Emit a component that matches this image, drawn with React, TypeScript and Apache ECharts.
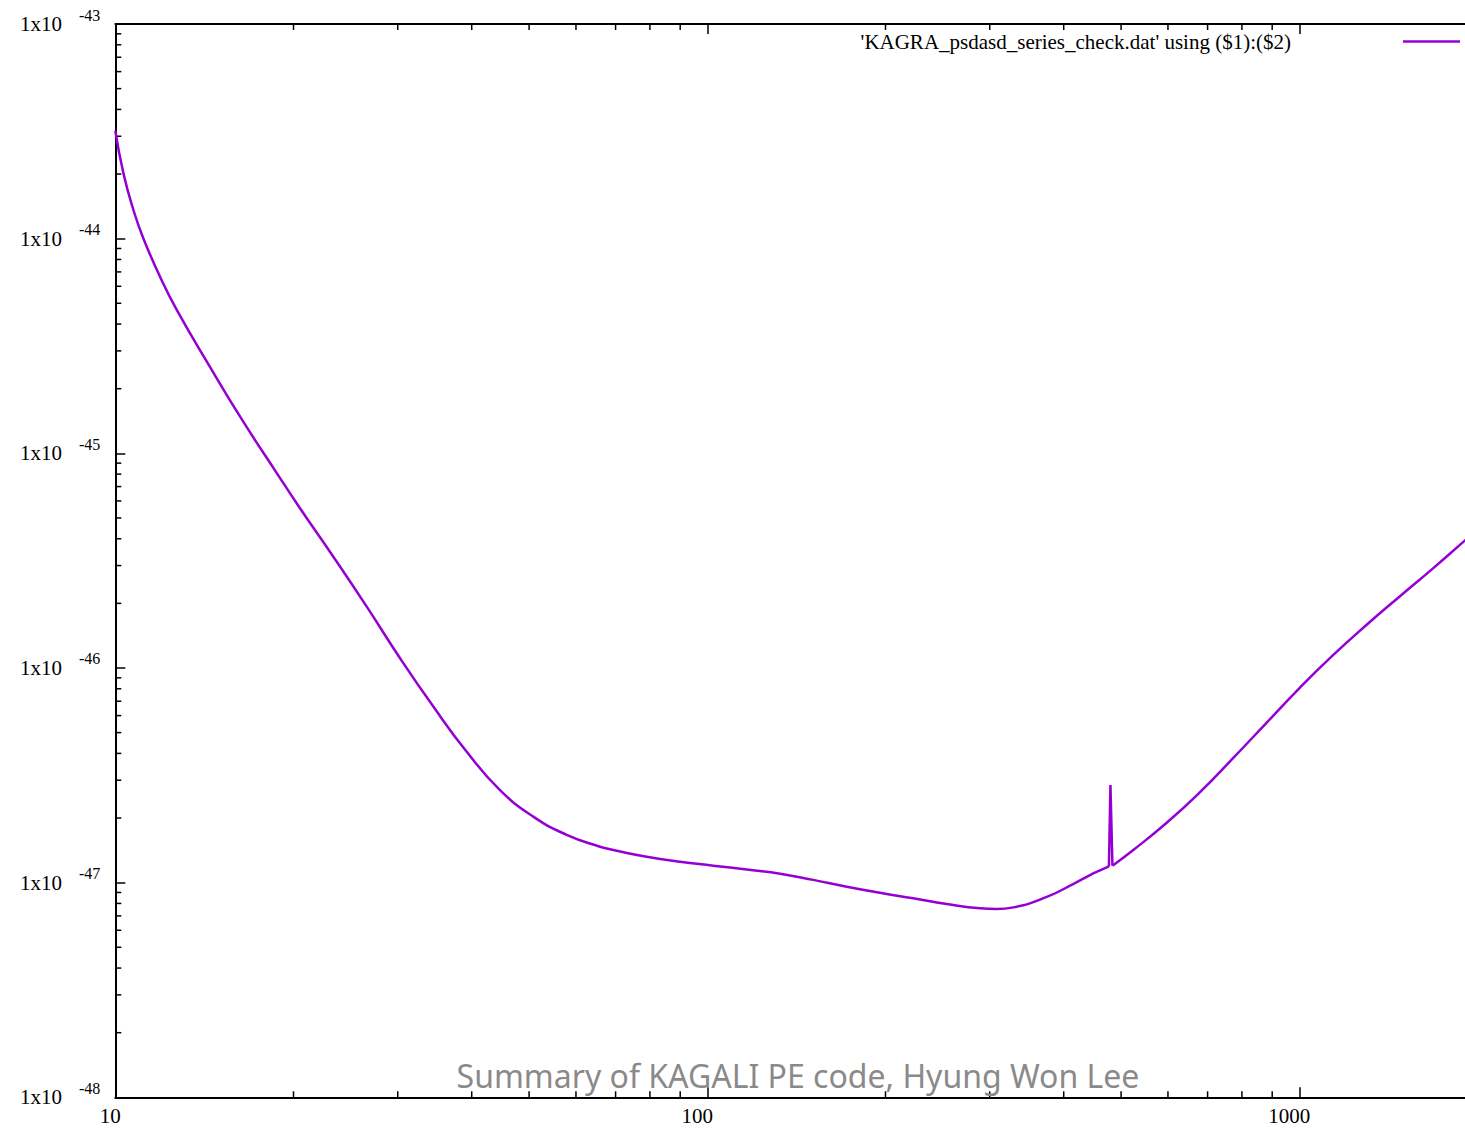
import React, { useEffect, useRef } from "react";
import * as echarts from "echarts";

const seriesName = "'KAGRA_psdasd_series_check.dat' using ($1):($2)";
const watermarkText = "Summary of KAGALI PE code, Hyung Won Lee";

const frequency = [
  10, 10.32, 10.73, 11.15, 11.9, 12.7, 14.45, 16.46, 18.74, 20.51,
  23.35, 26.59, 30.27, 34.45, 39.23, 44.65, 50.82, 57.87, 65.89, 69.38,
  79.0, 89.94, 102.35, 116.6, 132.7, 151.0, 172.0, 195.7, 222.8, 253.8,
  288.8, 308.2, 328.8, 374.5, 417.9, 443.1, 460.7, 476.9, 479.7, 483.5,
  524.4, 597.1, 679.7, 773.6, 881.1, 1002.8, 1141.4, 1299.7, 1479.4, 1684.2,
  1905.5, 2000,
];

const psd = [
  3.18e-44, 2.02e-44, 1.36e-44, 1.005e-44, 6.65e-45, 4.66e-45, 2.53e-45, 1.4e-45, 8.09e-46, 5.55e-46,
  3.3e-46, 1.93e-46, 1.11e-46, 6.61e-47, 4.07e-47, 2.7e-47, 2.03e-47, 1.67e-47, 1.47e-47, 1.42e-47,
  1.32e-47, 1.25e-47, 1.2e-47, 1.15e-47, 1.1e-47, 1.03e-47, 9.57e-48, 8.97e-48, 8.45e-48, 7.95e-48,
  7.59e-48, 7.54e-48, 7.67e-48, 8.58e-48, 9.96e-48, 1.085e-47, 1.14e-47, 1.19e-47, 2.85e-47, 1.2e-47,
  1.42e-47, 1.9e-47, 2.64e-47, 3.81e-47, 5.57e-47, 8.11e-47, 1.15e-46, 1.59e-46, 2.16e-46, 2.92e-46,
  3.93e-46, 4.41e-46,
];

// the narrow line near 480 Hz: indices of the points around the spike
const spikeStart = 37;
const spikeEnd = 39;

const xMin = 10;
const xMax = 2000;
const yMin = 1e-48;
const yMax = 1e-43;

const xMinorTicks = [20, 30, 40, 50, 60, 70, 80, 90, 200, 300, 400, 500, 600, 700, 800, 900];
const yMinorTicks = [
  2e-48, 3e-48, 4e-48, 5e-48, 6e-48, 7e-48, 8e-48, 9e-48,
  2e-47, 3e-47, 4e-47, 5e-47, 6e-47, 7e-47, 8e-47, 9e-47,
  2e-46, 3e-46, 4e-46, 5e-46, 6e-46, 7e-46, 8e-46, 9e-46,
  2e-45, 3e-45, 4e-45, 5e-45, 6e-45, 7e-45, 8e-45, 9e-45,
  2e-44, 3e-44, 4e-44, 5e-44, 6e-44, 7e-44, 8e-44, 9e-44,
];

// The axis works in units of 1e-48 so that ECharts' rounding of tiny tick values stays exact.
const Y_UNIT_EXP = 48;
const toAxisY = (v: number) => v * Math.pow(10, Y_UNIT_EXP);

const SERIF = "'Liberation Serif', 'DejaVu Serif', serif";
const LINE_COLOR = "#9400D3";
const MINOR_LEN = 6;
const CHART_W = 1478;
const CHART_H = 1128;

export default function App() {
  const ref = useRef<HTMLDivElement>(null);

  useEffect(() => {
    if (!ref.current) return;
    const chart = echarts.init(ref.current, undefined, { renderer: "svg" });

    const isPow10 = (v: number) => {
      if (!(v > 0)) return false;
      const e = Math.log10(v);
      return Math.abs(e - Math.round(e)) < 1e-6;
    };

    const yLo = toAxisY(yMin);
    const yHi = toAxisY(yMax);

    const points = frequency.map((f, i) => [f, toAxisY(psd[i])]);
    const partA = points.slice(0, spikeStart + 1);
    const partB = points.slice(spikeStart, spikeEnd + 1);
    const partC = points.slice(spikeEnd);

    const axisLineStyle = { show: true, onZero: false, lineStyle: { color: "#000", width: 2 } };
    const majorTick = { show: true, inside: true, length: 10, lineStyle: { color: "#000", width: 1.5 } };

    const xAxisBase = {
      type: "log" as const,
      logBase: 10,
      min: xMin,
      max: xMax,
      axisLine: axisLineStyle,
      axisTick: majorTick,
      splitLine: { show: false },
      minorTick: { show: false },
    };
    const yAxisBase = {
      type: "log" as const,
      logBase: 10,
      min: yLo,
      max: yHi,
      axisLine: axisLineStyle,
      axisTick: majorTick,
      splitLine: { show: false },
      minorTick: { show: false },
    };

    const lineBase = {
      name: seriesName,
      type: "line",
      xAxisIndex: 0,
      yAxisIndex: 0,
      symbol: "none",
      showSymbol: false,
      lineStyle: { color: LINE_COLOR, width: 2.5 },
      itemStyle: { color: LINE_COLOR },
      z: 5,
    };

    const xLabelStyle = { fontFamily: SERIF, fontSize: 21, color: "#000" };

    const option: any = {
      animation: false,
      backgroundColor: "#fff",
      grid: {
        left: 115.3,
        right: CHART_W - 1477.5,
        top: 24,
        bottom: CHART_H - 1097.3,
        containLabel: false,
        outerBoundsMode: "none",
      },
      legend: {
        data: [{ name: seriesName, icon: "rect" }],
        right: 18,
        top: 31,
        padding: 0,
        align: "right",
        itemWidth: 57,
        itemHeight: 2.5,
        selectedMode: false,
        itemStyle: { color: LINE_COLOR },
        textStyle: {
          fontFamily: SERIF,
          fontSize: 21,
          color: "#000",
          padding: [0, 107, 0, 0],
        },
      },
      xAxis: [
        {
          ...xAxisBase,
          position: "bottom",
          axisLabel: {
            show: true,
            showMinLabel: true,
            showMaxLabel: false,
            margin: 8,
            formatter: (v: number) => {
              if (!isPow10(v)) return "";
              const t = String(Math.round(v));
              return v < 50 ? `{q|${t}}` : `{p|${t}}`;
            },
            rich: {
              p: { ...xLabelStyle, padding: [0, 20, 0, 0] },
              q: { ...xLabelStyle, padding: [0, 10, 0, 0] },
            },
          },
        },
        {
          ...xAxisBase,
          position: "top",
          axisLabel: { show: false },
        },
      ],
      yAxis: [
        {
          ...yAxisBase,
          position: "left",
          axisLabel: {
            show: true,
            showMinLabel: true,
            showMaxLabel: true,
            hideOverlap: false,
            margin: 15,
            formatter: (v: number) => {
              if (!isPow10(v)) return "";
              const e = Math.round(Math.log10(v)) - Y_UNIT_EXP;
              return `{a|1x10}{b|${e}}`;
            },
            rich: {
              a: { fontFamily: SERIF, fontSize: 21, color: "#000" },
              b: { fontFamily: SERIF, fontSize: 16, color: "#000", padding: [0, 0, 18, 17] },
            },
          },
        },
        {
          ...yAxisBase,
          position: "right",
          axisLabel: { show: false },
        },
      ],
      graphic: [
        {
          type: "text",
          x: 798,
          y: 1075,
          z: 100,
          silent: true,
          style: {
            text: watermarkText,
            fontFamily: "'Noto Sans', 'Open Sans', sans-serif",
            fontSize: 32,
            fill: "#8a8a8a",
            align: "center",
            verticalAlign: "middle",
          },
        },
      ],
      series: [
        { ...lineBase, data: partA, smooth: 0.5 },
        { ...lineBase, data: partB, smooth: false },
        { ...lineBase, data: partC, smooth: 0.5 },
        {
          name: "xMinor",
          type: "custom",
          xAxisIndex: 0,
          yAxisIndex: 0,
          silent: true,
          clip: false,
          data: xMinorTicks.map((v) => [v, yLo]),
          renderItem: (params: any, api: any) => {
            const b = api.coord([api.value(0), yLo]);
            const t = api.coord([api.value(0), yHi]);
            const style = { stroke: "#000", lineWidth: 1.5 };
            return {
              type: "group",
              children: [
                { type: "line", shape: { x1: b[0], y1: b[1], x2: b[0], y2: b[1] - MINOR_LEN }, style },
                { type: "line", shape: { x1: t[0], y1: t[1], x2: t[0], y2: t[1] + MINOR_LEN }, style },
              ],
            };
          },
          z: 3,
        },
        {
          name: "yMinor",
          type: "custom",
          xAxisIndex: 0,
          yAxisIndex: 0,
          silent: true,
          clip: false,
          data: yMinorTicks.map((v) => [xMin, toAxisY(v)]),
          renderItem: (params: any, api: any) => {
            const l = api.coord([xMin, api.value(1)]);
            const r = api.coord([xMax, api.value(1)]);
            const style = { stroke: "#000", lineWidth: 1.5 };
            return {
              type: "group",
              children: [
                { type: "line", shape: { x1: l[0], y1: l[1], x2: l[0] + MINOR_LEN, y2: l[1] }, style },
                { type: "line", shape: { x1: r[0], y1: r[1], x2: r[0] - MINOR_LEN, y2: r[1] }, style },
              ],
            };
          },
          z: 3,
        },
      ],
    };

    chart.setOption(option);
    return () => chart.dispose();
  }, []);

  return (
    <div
      style={{
        position: "fixed",
        left: 0,
        top: 0,
        width: 1465,
        height: CHART_H,
        overflow: "hidden",
        background: "#fff",
      }}
    >
      <div ref={ref} style={{ width: CHART_W, height: CHART_H }} />
    </div>
  );
}
